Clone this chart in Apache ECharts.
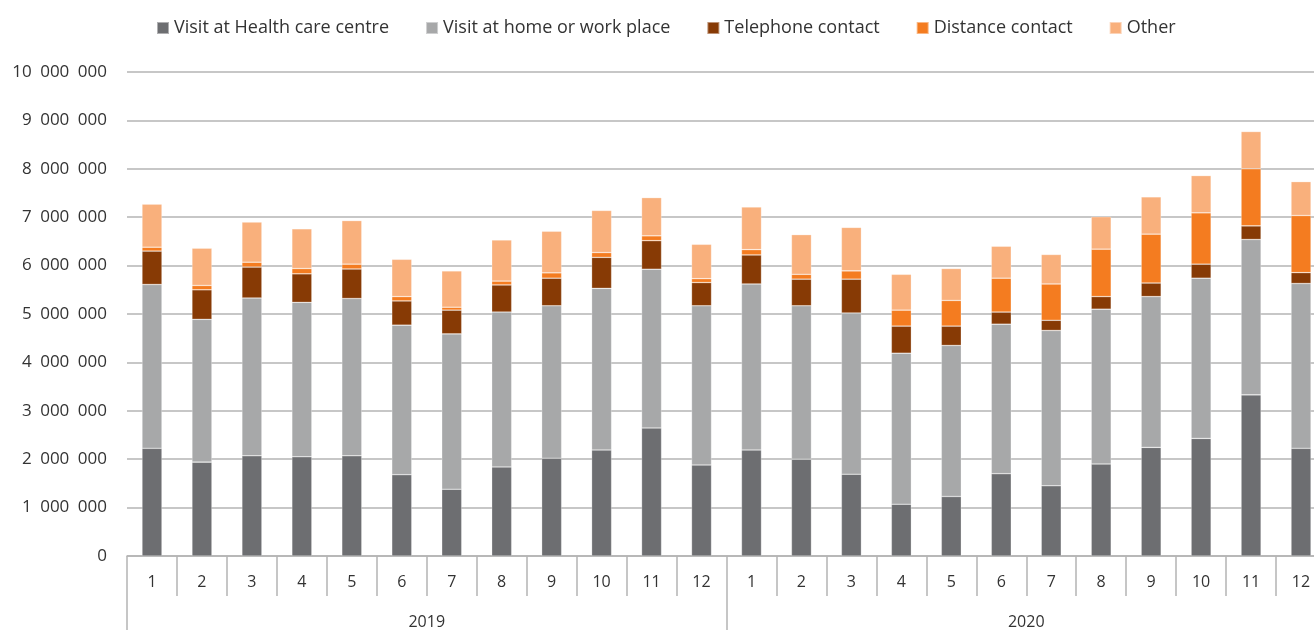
<!DOCTYPE html>
<html>
<head>
<meta charset="utf-8">
<script src="https://cdn.jsdelivr.net/npm/echarts@6/dist/echarts.min.js"></script>
<style>
html, body { margin: 0; padding: 0; background: #fff; overflow: hidden; }
/* chart is a bit wider than the window: the last bar is cut at the right edge like the original */
#main { width: 1326px; height: 630px; }
</style>
</head>
<body>
<div id="main"></div>
<script>
// months for 2019 and 2020
var months = ['1','2','3','4','5','6','7','8','9','10','11','12',
              '1','2','3','4','5','6','7','8','9','10','11','12'];
var years = ['2019', '2020'];
var seriesNames = ['Visit at Health care centre', 'Visit at home or work place',
                   'Telephone contact', 'Distance contact', 'Other'];

var healthCentre = [2225000, 1940000, 2070000, 2050000, 2070000, 1680000, 1380000, 1840000, 2020000, 2190000, 2645000, 1880000,
                    2190000, 2000000, 1690000, 1070000, 1230000, 1700000, 1450000, 1900000, 2245000, 2430000, 3330000, 2225000];
var homeWork     = [3385000, 2950000, 3260000, 3190000, 3250000, 3090000, 3210000, 3200000, 3150000, 3340000, 3280000, 3290000,
                    3430000, 3170000, 3330000, 3120000, 3120000, 3090000, 3210000, 3200000, 3115000, 3310000, 3210000, 3405000];
var telephone    = [690000, 610000, 640000, 590000, 610000, 500000, 490000, 560000, 570000, 640000, 590000, 480000,
                    600000, 550000, 700000, 560000, 400000, 250000, 210000, 260000, 280000, 290000, 280000, 225000];
var distance     = [80000, 90000, 100000, 110000, 100000, 90000, 60000, 80000, 110000, 100000, 100000, 80000,
                    110000, 100000, 170000, 330000, 530000, 700000, 750000, 980000, 1010000, 1060000, 1180000, 1180000];
var other        = [890000, 770000, 830000, 820000, 900000, 770000, 750000, 850000, 860000, 870000, 790000, 710000,
                    880000, 820000, 900000, 740000, 660000, 660000, 610000, 670000, 770000, 770000, 770000, 700000];

var colors = ['#6d6e71', '#a7a8a9', '#873a05', '#f47c20', '#f9b07c'];
var dataAll = [healthCentre, homeWork, telephone, distance, other];

var fontName = "'Open Sans', 'Noto Sans', sans-serif";
var lineGray = '#b4b4b4';

var seriesInfo = [];
for (var i = 0; i < seriesNames.length; i++) {
    seriesInfo.push({
        name: seriesNames[i],
        type: 'bar',
        stack: 'total',
        barWidth: 20,
        xAxisIndex: 0,
        itemStyle: {
            color: colors[i],
            borderColor: 'rgba(255,255,255,0.45)',
            borderWidth: 0.6
        },
        emphasis: { disabled: true },
        data: dataAll[i]
    });
}

var option = {
    animation: false,
    color: colors,
    textStyle: { fontFamily: fontName },
    legend: {
        top: 14,
        left: 151,
        itemWidth: 12,
        itemHeight: 12,
        itemGap: 36,
        icon: 'rect',
        textStyle: { fontSize: 18, color: '#333', fontFamily: fontName },
        data: seriesNames
    },
    grid: {
        left: 127,
        right: 0,
        top: 72,
        bottom: 73
    },
    xAxis: [
        {
            type: 'category',
            data: months,
            position: 'bottom',
            axisLine: { show: true, lineStyle: { color: lineGray, width: 1.5 } },
            axisTick: { show: true, length: 40, interval: 0, lineStyle: { color: lineGray, width: 1.5 } },
            axisLabel: { interval: 0, margin: 18, fontSize: 16, color: '#333', fontFamily: fontName }
        },
        {
            type: 'category',
            data: years,
            position: 'bottom',
            offset: 40,
            axisLine: { show: false },
            axisTick: { show: true, length: 34, interval: 0, lineStyle: { color: lineGray, width: 1.5 } },
            axisLabel: { interval: 0, margin: 18, fontSize: 16, color: '#333', fontFamily: fontName }
        }
    ],
    yAxis: {
        type: 'value',
        min: 0,
        max: 10000000,
        interval: 1000000,
        axisLine: { show: false },
        axisTick: { show: false },
        splitLine: { lineStyle: { color: lineGray, width: 1.5 } },
        axisLabel: {
            margin: 20,
            fontSize: 17,
            color: '#333',
            fontFamily: fontName,
            formatter: function (v) {
                return String(v).replace(/\B(?=(\d{3})+(?!\d))/g, '\u2002');
            }
        }
    },
    series: seriesInfo
};

var myChart = echarts.init(document.getElementById('main'));
myChart.setOption(option);
</script>
</body>
</html>
